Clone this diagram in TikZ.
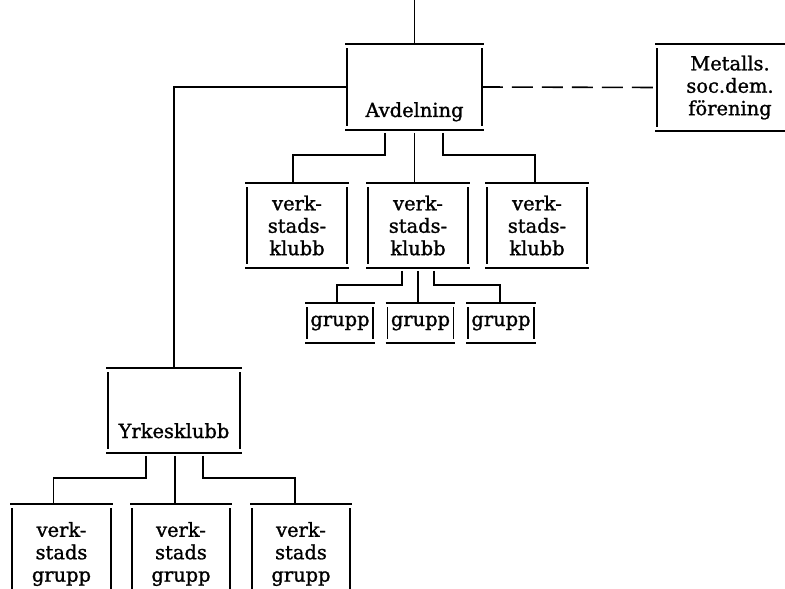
\documentclass[tikz,border=0pt]{standalone}
\usepackage{fontspec}
\setmainfont{DejaVu Serif}[BoldFont={DejaVu Serif}, BoldFeatures={FakeBold=1.2}]
\begin{document}
\begin{tikzpicture}[
    x=1bp, y=-1bp,
    % Define styles
    box/.style={
        rectangle,
        inner sep=0pt,
        outer sep=0pt,
        align=center,
        font=\fontsize{19.5}{22.5}\selectfont\bfseries
    },
    rule/.style={
        black,
        line width=1.6bp
    },
    label_text/.style={
        font=\fontsize{19.5}{22.5}\selectfont\bfseries,
        anchor=base
    },
    link/.style={
        rule,
        dash pattern=on 21bp off 9bp
    }
]
    \useasboundingbox (0,0) rectangle (785,589);
    \clip (0,0) rectangle (785,589);

    % --- Top level ---
    \coordinate (top) at (417,0);
    \node[box, minimum width=135, minimum height=86] (avd) at (414.5,87) {};
    \node[label_text] at (414.5,117) {Avdelning};
    \node[box, minimum width=146, minimum height=87] (met) at (730,87.5)
        {Metalls.\\soc.dem.\\förening};

    % --- Verkstadsklubbar ---
    \node[box, minimum width=100, minimum height=85] (k1) at (297,225.5)
        {verk-\\stads-\\klubb};
    \node[box, minimum width=100, minimum height=85] (k2) at (418,225.5)
        {verk-\\stads-\\klubb};
    \node[box, minimum width=100, minimum height=85] (k3) at (537,225.5)
        {verk-\\stads-\\klubb};

    % --- Grupper ---
    \node[box, minimum width=66, minimum height=40] (g1) at (340,323) {grupp};
    \node[box, minimum width=66, minimum height=40] (g2) at (420.5,323) {grupp};
    \node[box, minimum width=66, minimum height=40] (g3) at (501,323) {grupp};

    % --- Yrkesklubb ---
    \node[box, minimum width=132, minimum height=85] (yrk) at (174,410.5) {};
    \node[label_text] at (174,438) {Yrkesklubb};

    % Verkstadsgrupper (cut off at the bottom)
    \node[box, minimum width=99, minimum height=100] (v1) at (61.5,554)
        {verk-\\stads\\grupp};
    \node[box, minimum width=98, minimum height=100] (v2) at (181,554)
        {verk-\\stads\\grupp};
    \node[box, minimum width=98, minimum height=100] (v3) at (301,554)
        {verk-\\stads\\grupp};

    % Box outlines, corners left open
    \foreach \b in {avd,met,k1,k2,k3,g1,g2,g3,yrk,v1,v2,v3} {
        \draw[rule] ([shift={(-2,0)}]\b.north west) -- ([shift={(2,0)}]\b.north east);
        \draw[rule] ([shift={(-2,0)}]\b.south west) -- ([shift={(2,0)}]\b.south east);
        \draw[rule] ([shift={(0,4)}]\b.north west) -- ([shift={(0,-4)}]\b.south west);
        \draw[rule] ([shift={(0,4)}]\b.north east) -- ([shift={(0,-4)}]\b.south east);
    }

    % --- Connections ---
    \draw[rule] (avd.north) -- (avd.north |- top);
    \draw[link] (avd.east) -- (met.west);
    \draw[rule] (avd.west) -| (yrk.north);

    % Avdelning to klubbar
    \draw[rule] ([shift={(-29.5,3)}]avd.south) -- ++(0,22) -| ([shift={(-4,0)}]k1.north);
    \draw[rule] ([shift={(0,3)}]avd.south) -- (avd.south |- k2.north);
    \draw[rule] ([shift={(28.5,3)}]avd.south) -- ++(0,22) -| ([shift={(-2,0)}]k3.north);

    % Klubb to grupper
    \draw[rule] ([shift={(-16,3)}]k2.south) -- ++(0,14) -| ([shift={(-3,0)}]g1.north);
    \draw[rule] ([shift={(0,3)}]k2.south) -- (k2.south |- g2.north);
    \draw[rule] ([shift={(16,3)}]k2.south) -- ++(0,14) -| ([shift={(-1,0)}]g3.north);

    % Yrkesklubb to verkstadsgrupper
    \draw[rule] ([shift={(-28,3)}]yrk.south) -- ++(0,22) -| ([shift={(-8,0)}]v1.north);
    \draw[rule] ([shift={(1,3)}]yrk.south) -- ([shift={(1,0)}]yrk.south |- v2.north);
    \draw[rule] ([shift={(29,3)}]yrk.south) -- ++(0,22) -| ([shift={(-6,0)}]v3.north);

\end{tikzpicture}
\end{document}
